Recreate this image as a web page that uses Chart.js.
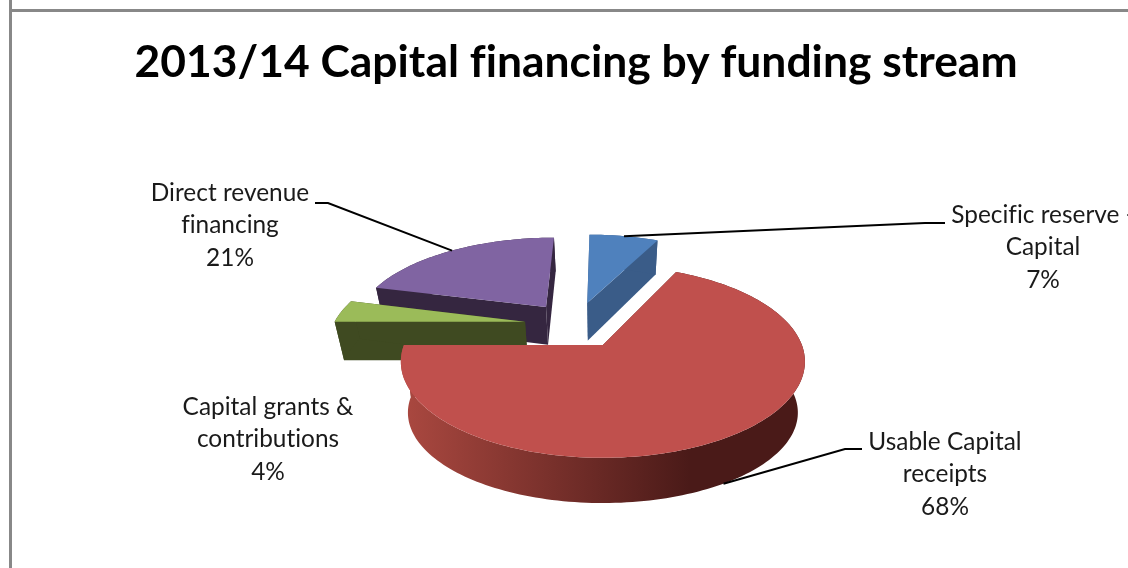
<!DOCTYPE html>
<html lang="en">
<head>
    <meta charset="UTF-8">
    <title>2013/14 Capital financing by funding stream</title>
    <script src="https://cdn.jsdelivr.net/npm/chart.js"></script>
    <style>
        body { margin: 0; background: #fff; overflow: hidden; }
        .wrap { position: relative; width: 1128px; height: 568px; }
        .rule-top { position: absolute; left: 9px; right: 0; top: 9px; height: 3px; background: #888; }
        .rule-left { position: absolute; left: 9px; top: 0; bottom: 0; width: 3px; background: #888; }
        canvas { position: absolute; left: 0; top: 0; }
    </style>
</head>
<body>
    <div class="wrap">
        <div class="rule-top"></div>
        <div class="rule-left"></div>
        <canvas id="myChart" width="1128" height="568"></canvas>
    </div>

    <script>
        const chartTitle = '2013/14 Capital financing by funding stream';
        const categories = ['Specific reserve - Capital', 'Usable Capital receipts', 'Capital grants & contributions', 'Direct revenue financing'];
        const labelLines = [['Specific reserve -', 'Capital'], ['Usable Capital', 'receipts'], ['Capital grants &', 'contributions'], ['Direct revenue', 'financing']];
        const values = [7, 68, 4, 21];

        const topColors = ['#4f81bd', '#c0504d', '#9bbb59', '#8064a2'];
        const wallColors = ['#3a5c88', '#4a1a18', '#3f4a21', '#352640'];

        // label box centre, first line centre, and the end of the leader line (null = no leader)
        const labelPlaces = [
            { x: 1043, y: 215, elbow: [[925, 223], [945, 223]] },
            { x: 945, y: 442, elbow: [[845, 449], [862, 449]] },
            { x: 268, y: 407, elbow: null },
            { x: 230, y: 193, elbow: [[328, 203], [315, 203]] }
        ];

        // camera used to tilt the pie
        const view = { cx: 603, cy: 345, rx: 199, ry: 93.3, k: 0.174, centerU: -0.144, centerV: 0.227 };
        const explodeOffset = 56.5;  // px, comes out at 0.27 of the pie radius
        const bigSlice = 1;  // its underside is squashed a little more than the others
        const drawOrder = [3, 2, 0, 1];  // back to front

        // disc coordinates (radius = 1, v points away) -> screen
        function project(u, v) {
            const d = 1 + view.k * v;
            return [view.cx + view.rx * u / d, view.cy - view.ry * v / d];
        }

        // same point on the underside of the pie
        function drop(u, v, i) {
            const p = project(u, v);
            const y = i === bigSlice
                ? view.cy + 52 + (p[1] - view.cy) * 0.94
                : p[1] + 39.7 / (1 + 0.12 * v);
            return [view.cx + (p[0] - view.cx) * 0.965, y];
        }

        function apexOf(arc) {
            const mid = (arc.startAngle + arc.endAngle) / 2;
            const e = arc.options.offset / arc.outerRadius;
            return [view.centerU + e * Math.cos(mid), view.centerV - e * Math.sin(mid)];
        }

        function outline(arc) {
            const apex = apexOf(arc);
            const pts = [apex];
            const steps = Math.ceil((arc.endAngle - arc.startAngle) * 40);
            for (let i = 0; i <= steps; i++) {
                const a = arc.startAngle + (arc.endAngle - arc.startAngle) * i / steps;
                pts.push([apex[0] + Math.cos(a), apex[1] - Math.sin(a)]);
            }
            return pts;
        }

        function tracePoly(ctx, pts) {
            ctx.beginPath();
            pts.forEach((p, i) => i ? ctx.lineTo(p[0], p[1]) : ctx.moveTo(p[0], p[1]));
            ctx.closePath();
        }

        const tiltedPie = {
            id: 'tiltedPie',
            beforeDraw(chart) {
                chart.ctx.letterSpacing = '0.01px';  // keeps "fi" as two letters
            },
            beforeDatasetDraw(chart, args) {
                const ctx = chart.ctx;
                const arcs = args.meta.data;
                drawOrder.forEach(i => {
                    const pts = outline(arcs[i]);
                    const rim = pts.slice(1);
                    let wall = wallColors[i];
                    if (i === bigSlice) {
                        wall = ctx.createLinearGradient(410, 0, 690, 0);
                        wall.addColorStop(0, '#a8473f');
                        wall.addColorStop(1, wallColors[i]);
                    }
                    const top = p => project(p[0], p[1]);
                    const low = p => drop(p[0], p[1], i);
                    ctx.save();
                    ctx.fillStyle = wall;
                    // cut faces, then the curved band in one piece
                    [[pts[0], rim[0]], [pts[0], rim[rim.length - 1]]].forEach(e => {
                        tracePoly(ctx, [top(e[0]), top(e[1]), low(e[1]), low(e[0])]);
                        ctx.fill();
                    });
                    tracePoly(ctx, rim.map(top).concat(rim.slice().reverse().map(low)));
                    ctx.fill();
                    tracePoly(ctx, pts.map(top));
                    ctx.fillStyle = arcs[i].options.backgroundColor;
                    ctx.fill();
                    ctx.restore();
                });
                return false;
            },
            afterDraw(chart) {
                const ctx = chart.ctx;
                const arcs = chart.getDatasetMeta(0).data;
                ctx.save();
                ctx.strokeStyle = '#000';
                ctx.lineWidth = 2;
                ctx.fillStyle = '#1a1a1a';
                ctx.font = '24.4px Lato';
                ctx.textAlign = 'center';
                ctx.textBaseline = 'middle';
                labelPlaces.forEach((place, i) => {
                    const lines = labelLines[i].concat(values[i] + '%');
                    lines.forEach((line, n) => ctx.fillText(line, place.x, place.y + n * 32.5));
                    if (!place.elbow) return;
                    // leader starts on the middle of the slice's outer edge
                    const apex = apexOf(arcs[i]);
                    const mid = (arcs[i].startAngle + arcs[i].endAngle) / 2;
                    const u = apex[0] + Math.cos(mid), v = apex[1] - Math.sin(mid);
                    const start = i === bigSlice ? drop(u, v, i) : project(u, v);
                    ctx.beginPath();
                    ctx.moveTo(start[0], start[1]);
                    place.elbow.forEach(p => ctx.lineTo(p[0], p[1]));
                    ctx.stroke();
                });
                ctx.restore();
            }
        };

        new Chart(document.getElementById('myChart'), {
            type: 'pie',
            data: {
                labels: categories,
                datasets: [{
                    data: values,
                    backgroundColor: topColors,
                    borderWidth: 0,
                    offset: explodeOffset
                }]
            },
            options: {
                responsive: false,
                animation: false,
                layout: { padding: { left: 24 } },
                plugins: {
                    legend: { display: false },
                    tooltip: { enabled: false },
                    title: {
                        display: true,
                        text: chartTitle,
                        color: '#000',
                        font: { family: 'Lato', size: 44.4, weight: 'bold', lineHeight: 1.2 },
                        padding: { top: 36, bottom: 0 }
                    }
                }
            },
            plugins: [tiltedPie]
        });
    </script>
</body>
</html>
